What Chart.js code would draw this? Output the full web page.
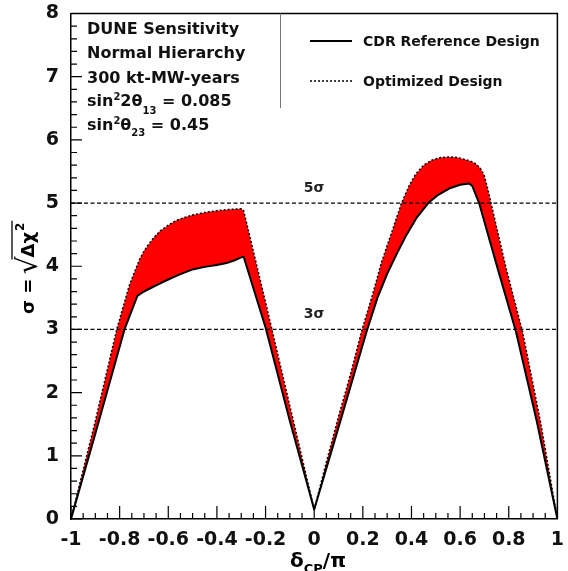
<!DOCTYPE html>
<html>
<head>
<meta charset="utf-8">
<script src="https://cdn.jsdelivr.net/npm/chart.js@4.4.1/dist/chart.umd.min.js"></script>
<style>
html,body{margin:0;padding:0;background:#fff;}
#wrap{width:568px;height:571px;position:relative;}
</style>
</head>
<body>
<div id="wrap"><canvas id="c" width="568" height="571"></canvas></div>
<script>
// ---- data ----
const cdrX = [-1, -0.9, -0.78, -0.727, -0.7, -0.68, -0.633, -0.6, -0.56, -0.5, -0.45, -0.4, -0.36, -0.33, -0.3, -0.29,
              -0.2, -0.1, 0,
              0.1, 0.215, 0.26, 0.3, 0.34, 0.38, 0.42, 0.469, 0.51, 0.555, 0.6, 0.637, 0.65, 0.678, 0.754, 0.83, 0.915, 1];
const cdrY = [0, 1.35, 3.0, 3.53, 3.6, 3.64, 3.73, 3.79, 3.86, 3.95, 3.99, 4.02, 4.05, 4.09, 4.14, 4.15,
              3.03, 1.55, 0.15,
              1.45, 2.96, 3.5, 3.88, 4.2, 4.5, 4.76, 5.0, 5.13, 5.23, 5.29, 5.31, 5.27, 5.0, 3.97, 2.96, 1.55, 0];
const optX = [-1, -0.9, -0.812, -0.76, -0.718, -0.7, -0.68, -0.66, -0.633, -0.6, -0.57, -0.535, -0.5, -0.45, -0.4, -0.35, -0.3, -0.29,
              -0.2, -0.1, 0,
              0.05, 0.1, 0.15, 0.194, 0.24, 0.278, 0.32, 0.359, 0.39, 0.416, 0.45, 0.484, 0.52, 0.554, 0.59, 0.62, 0.645,
              0.665, 0.683, 0.698, 0.712, 0.727, 0.789, 0.857, 0.93, 1];
const optY = [0, 1.55, 3.0, 3.7, 4.11, 4.24, 4.35, 4.45, 4.56, 4.65, 4.72, 4.77, 4.81, 4.85, 4.88, 4.9, 4.91, 4.88,
              3.43, 1.79, 0.15,
              0.9, 1.62, 2.3, 2.96, 3.55, 4.08, 4.55, 5.0, 5.27, 5.45, 5.6, 5.68, 5.72, 5.73, 5.72, 5.69, 5.66,
              5.62, 5.55, 5.45, 5.25, 5.0, 3.97, 2.96, 1.55, 0];
const sigmaLevels = [5, 3];
const sigmaLabels = ['5σ', '3σ'];
const xTickLabels = ['-1','-0.8','-0.6','-0.4','-0.2','0','0.2','0.4','0.6','0.8','1'];
const yTickLabels = ['0','1','2','3','4','5','6','7','8'];
const seriesNames = ['CDR Reference Design', 'Optimized Design'];
const infoLines = ['DUNE Sensitivity', 'Normal Hierarchy', '300 kt-MW-years'];

const FONT = '"DejaVu Sans", "Liberation Sans", sans-serif';
const pts = (xs, ys) => xs.map((x, i) => ({x: x, y: ys[i]}));

const datasets = [];
sigmaLevels.forEach(s => {
  datasets.push({data: [{x: -1, y: s}, {x: 1, y: s}], borderColor: '#000', borderWidth: 1.2,
    borderDash: [4, 2.5], pointRadius: 0, fill: false});
});
datasets.push({label: seriesNames[0], data: pts(cdrX, cdrY), borderColor: '#000', borderWidth: 2,
  pointRadius: 0, fill: false, tension: 0, borderJoinStyle: 'round'});
datasets.push({label: seriesNames[1], data: pts(optX, optY), borderColor: '#000', borderWidth: 1.5,
  borderDash: [2, 2], pointRadius: 0, fill: '-1', backgroundColor: '#ff0000', tension: 0});

const overlay = {
  id: 'overlay',
  afterDraw(chart) {
    const ctx = chart.ctx, a = chart.chartArea, xs = chart.scales.x, ys = chart.scales.y;
    ctx.save();
    // frame top/right
    ctx.strokeStyle = '#000'; ctx.lineWidth = 1.5;
    ctx.beginPath();
    ctx.moveTo(a.left, a.top); ctx.lineTo(a.right, a.top); ctx.lineTo(a.right, a.bottom);
    ctx.stroke();
    // inside ticks
    ctx.lineWidth = 1.2;
    ctx.beginPath();
    for (let i = 0; i <= 40; i++) {
      const v = -1 + i * 0.05;
      const px = xs.getPixelForValue(v);
      const len = (i % 4 === 0) ? 13 : 6;
      ctx.moveTo(px, a.bottom); ctx.lineTo(px, a.bottom - len);
    }
    for (let i = 0; i <= 40; i++) {
      const v = i * 0.2;
      const py = ys.getPixelForValue(v);
      const len = (i % 5 === 0) ? 11 : 6;
      ctx.moveTo(a.left, py); ctx.lineTo(a.left + len, py);
    }
    ctx.stroke();

    // sigma labels
    ctx.fillStyle = '#222';
    ctx.font = 'bold 14px ' + FONT;
    ctx.textAlign = 'center'; ctx.textBaseline = 'alphabetic';
    const xm = xs.getPixelForValue(0);
    sigmaLevels.forEach((s, i) => {
      ctx.fillText(sigmaLabels[i], xm, ys.getPixelForValue(s) - 11);
    });

    // info text
    ctx.textAlign = 'left';
    ctx.fillStyle = '#111';
    const bx = 87, base = [34, 58, 83, 106, 130];
    ctx.font = 'bold 16px ' + FONT;
    infoLines.forEach((t, i) => ctx.fillText(t, bx, base[i]));
    const seq = (parts, y) => {
      let u = bx;
      parts.forEach(p => {
        ctx.font = 'bold ' + p[1] + 'px ' + FONT;
        ctx.fillText(p[0], u + (p[3] || 0), y + p[2]);
        u += ctx.measureText(p[0]).width + (p[3] || 0);
      });
    };
    seq([['sin', 16, 0], ['2', 10, -6], ['2θ', 16, 0], ['13', 10, 8], [' = 0.085', 16, 0]], base[3]);
    seq([['sin', 16, 0], ['2', 10, -6], ['θ', 16, 0], ['23', 10, 6], [' = 0.45', 16, 0]], base[4]);

    // legend box
    ctx.strokeStyle = '#777'; ctx.lineWidth = 1;
    ctx.beginPath();
    ctx.moveTo(280.5, a.top); ctx.lineTo(280.5, 108);
    ctx.stroke();
    ctx.strokeStyle = '#000';
    ctx.lineWidth = 2; ctx.setLineDash([]);
    ctx.beginPath(); ctx.moveTo(310, 41); ctx.lineTo(352, 41); ctx.stroke();
    ctx.lineWidth = 1.5; ctx.setLineDash([2, 2]);
    ctx.beginPath(); ctx.moveTo(310, 81); ctx.lineTo(352, 81); ctx.stroke();
    ctx.setLineDash([]);
    ctx.font = 'bold 14px ' + FONT;
    ctx.fillText(seriesNames[0], 363, 46);
    ctx.fillText(seriesNames[1], 363, 86);

    // x title
    ctx.fillStyle = '#000';
    ctx.font = 'bold 20px ' + FONT;
    const wd = ctx.measureText('δ').width;
    ctx.font = 'bold 13px ' + FONT;
    const wc = ctx.measureText('CP').width;
    ctx.font = 'bold 20px ' + FONT;
    const wp = ctx.measureText('/π').width;
    let ux = 318 - (wd + wc + wp) / 2;
    ctx.fillText('δ', ux, 567); ux += wd;
    ctx.font = 'bold 13px ' + FONT;
    ctx.fillText('CP', ux, 573); ux += wc;
    ctx.font = 'bold 20px ' + FONT;
    ctx.fillText('/π', ux, 567);

    // y title (rotated)
    ctx.save();
    ctx.translate(34, 314);
    ctx.rotate(-Math.PI / 2);
    let u = 0;
    ctx.font = 'bold 18px ' + FONT;
    ctx.fillText('σ', u, 0); u += ctx.measureText('σ').width;
    ctx.fillText(' = ', u, 0); u += ctx.measureText(' = ').width;
    ctx.font = '28px ' + FONT;
    ctx.fillText('√', u - 2, 3); u += ctx.measureText('√').width - 3;
    const barStart = u - 2;
    ctx.font = 'bold 18px ' + FONT;
    ctx.fillText('Δχ', u, 0); u += ctx.measureText('Δχ').width;
    ctx.font = 'bold 12px ' + FONT;
    ctx.fillText('2', u + 1, -10); u += ctx.measureText('2').width + 3;
    ctx.lineWidth = 1.3;
    ctx.beginPath(); ctx.moveTo(barStart, -22); ctx.lineTo(u, -22); ctx.stroke();
    ctx.restore();

    ctx.restore();
  }
};

new Chart(document.getElementById('c'), {
  type: 'line',
  data: {datasets: datasets},
  options: {
    responsive: false,
    animation: false,
    layout: {padding: {top: 11, right: 7, bottom: 0, left: 0}},
    plugins: {legend: {display: false}, tooltip: {enabled: false}},
    scales: {
      x: {
        type: 'linear', min: -1, max: 1,
        grid: {display: false},
        border: {display: true, color: '#000', width: 1.5},
        ticks: {
          stepSize: 0.2, autoSkip: false, maxRotation: 0, padding: 4,
          color: '#111', font: {family: FONT, size: 19, weight: 'bold', lineHeight: 1},
          callback: (v, i) => xTickLabels[i]
        },
        afterFit: s => { s.height = 52; }
      },
      y: {
        type: 'linear', min: 0, max: 8,
        grid: {display: false},
        border: {display: true, color: '#000', width: 1.5},
        ticks: {
          stepSize: 1, padding: 4,
          color: '#111', font: {family: FONT, size: 19, weight: 'bold', lineHeight: 1},
          callback: (v, i) => yTickLabels[i]
        },
        afterFit: s => { s.width = 71; }
      }
    }
  },
  plugins: [overlay]
});
</script>
</body>
</html>
